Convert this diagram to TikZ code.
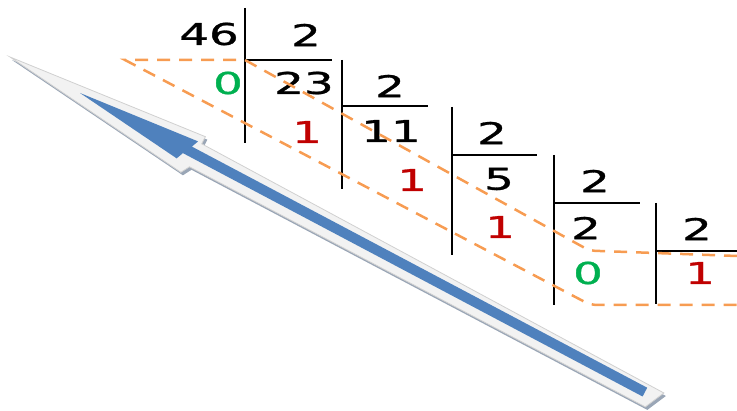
\documentclass[tikz,border=0pt]{standalone}
\usepackage{fontspec}
\newfontfamily\numfont[FakeBold=0.9]{DejaVu Sans}
\definecolor{dgreen}{HTML}{00B050}
\definecolor{dred}{HTML}{C00000}
\definecolor{dorange}{HTML}{F79C52}
\definecolor{ablue}{HTML}{4F81BD}
\definecolor{ashade}{HTML}{9AA6B6}
\definecolor{alight}{HTML}{F2F2F2}
\definecolor{aedge}{HTML}{D0D0D0}
\newcommand{\dig}[1]{\scalebox{1.56}[1]{\fontsize{30}{32}\selectfont\numfont #1}}
\begin{document}
\begin{tikzpicture}[x=1pt,y=-1pt,
  num/.style={inner sep=0pt, outer sep=0pt},
  rule/.style={line width=2.5pt, black},
  guide/.style={dorange, line width=2.5pt, dash pattern=on 13pt off 9pt}]
\useasboundingbox (0,0) rectangle (737,411);
% big arrow
\fill[ashade, shift={(2,3)}] (10,57) -- (205.4,136.7) -- (201.7,143.8) -- (663.9,393) -- (645.3,406.9) -- (189.5,166.8) -- (180.9,172.3) -- cycle;
\filldraw[fill=alight, draw=aedge, line width=0.8pt] (10,57) -- (205.4,136.7) -- (201.7,143.8) -- (663.9,393) -- (645.3,406.9) -- (189.5,166.8) -- (180.9,172.3) -- cycle;
\fill[ablue] (80,93) -- (198.1,141.4) -- (191.9,146.6) -- (647.2,387.7) -- (642.6,396.5) -- (182.9,153.1) -- (176.7,158.4) -- cycle;
% numbers
\node[num] (n46) at (209,34) {\dig{46}};
\node[num] (d1) at (306,35) {\dig{2}};
\node[num,text=dgreen] (r1) at (228,83) {\dig{0}};
\node[num] (q1) at (304,83) {\dig{23}};
\node[num] (d2) at (390,86) {\dig{2}};
\node[num,text=dred] (r2) at (307,132) {\dig{1}};
\node[num] (q2) at (391,131) {\dig{11}};
\node[num] (d3) at (492,133) {\dig{2}};
\node[num,text=dred] (r3) at (412,180) {\dig{1}};
\node[num] (q3) at (499,179) {\dig{5}};
\node[num] (d4) at (595,181) {\dig{2}};
\node[num,text=dred] (r4) at (500,227) {\dig{1}};
\node[num] (q4) at (586,228) {\dig{2}};
\node[num] (d5) at (697,229) {\dig{2}};
\node[num,text=dgreen] (r5) at (588,273) {\dig{0}};
\node[num,text=dred] (q5) at (700,273) {\dig{1}};
% division rules
\draw[rule] (245,8) -- (245,143);  \draw[rule] (245,60) -- (332,60);
\draw[rule] (342,60) -- (342,189); \draw[rule] (342,106) -- (428,106);
\draw[rule] (452,107) -- (452,255); \draw[rule] (452,155) -- (537,155);
\draw[rule] (554,155) -- (554,305); \draw[rule] (554,203) -- (640,203);
\draw[rule] (656,203) -- (656,304); \draw[rule] (656,251) -- (737,251);
% dashed guides
\draw[guide] (737,256) -- (600,251) .. controls (592,251) and (588,250) .. (583,247) -- (245,60) -- (125,60) -- (583,301) .. controls (588,304) and (592,305) .. (600,305) -- (737,305);
\end{tikzpicture}
\end{document}
